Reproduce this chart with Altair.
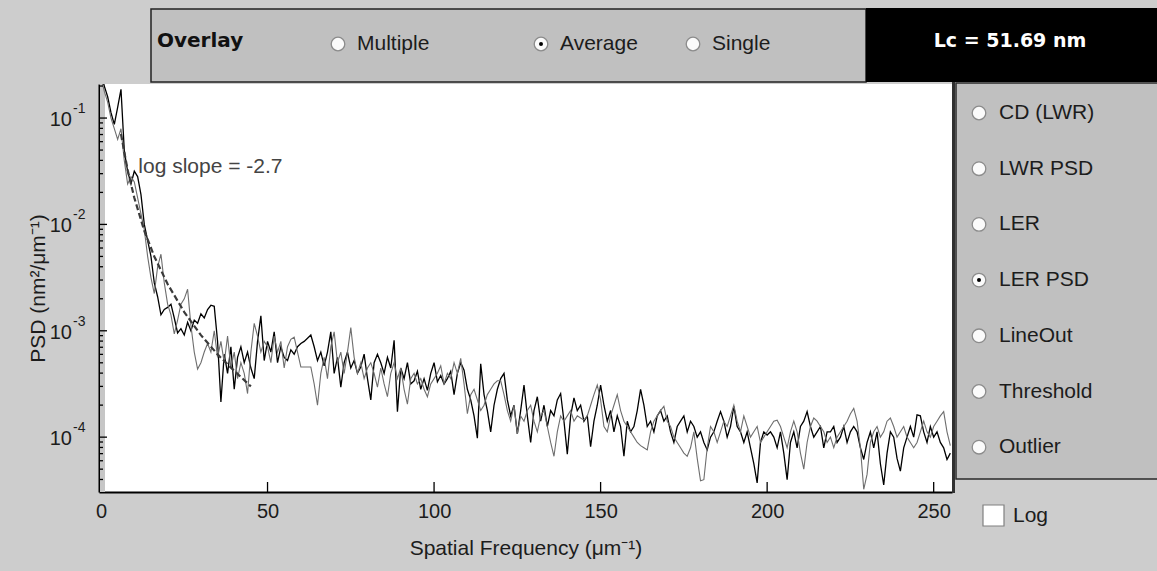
import altair as alt
import pandas as pd
import numpy as np

# ---------------- data ----------------
# log10 of PSD (nm^2/um^-1), one value per unit of spatial frequency (um^-1), f = 0..255
black_log10 = [
    -0.60, -0.70, -0.80, -0.95, -1.06, -0.90, -0.73, -1.31, -1.50, -1.62, -1.50, -1.55, -1.72, -2.00, -2.15, -2.30,
    -2.55, -2.68, -2.85, -2.80, -2.78, -2.75, -2.88, -3.02, -2.98, -3.04, -2.92, -3.00, -2.90, -2.93, -2.84, -2.88,
    -2.80, -2.76, -2.77, -3.10, -3.67, -3.22, -3.40, -3.15, -3.55, -3.25, -3.15, -3.30, -3.20, -3.35, -3.45, -3.10,
    -2.86, -3.28, -3.10, -3.20, -3.01, -3.30, -3.15, -3.25, -3.28, -3.18, -3.22, -3.15, -3.12, -3.10, -3.07, -3.04,
    -3.15, -3.28, -3.20, -3.33, -3.20, -3.01, -3.40, -3.25, -3.53, -3.30, -3.20, -3.35, -3.28, -3.40, -3.34, -3.22,
    -3.45, -3.65, -3.30, -3.22, -3.30, -3.40, -3.25, -3.35, -3.09, -3.76, -3.35, -3.45, -3.30, -3.50, -3.47, -3.38,
    -3.55, -3.45, -3.56, -3.40, -3.30, -3.48, -3.42, -3.50, -3.45, -3.38, -3.60, -3.40, -3.30, -3.37, -3.55, -3.65,
    -3.80, -4.01, -3.31, -3.60, -3.75, -3.95, -3.70, -3.55, -3.45, -3.40, -3.65, -3.80, -3.70, -3.97, -3.75, -3.51,
    -3.80, -4.05, -3.75, -3.62, -3.85, -3.70, -3.90, -3.75, -3.80, -3.65, -3.59, -3.85, -4.16, -3.80, -3.63, -3.75,
    -3.70, -3.85, -3.80, -4.09, -3.85, -3.70, -3.51, -3.70, -3.85, -3.75, -3.95, -3.80, -3.90, -4.18, -3.85, -3.95,
    -3.90, -3.75, -3.55, -3.70, -3.90, -3.85, -3.95, -3.80, -3.75, -3.85, -3.80, -3.95, -4.05, -3.90, -3.85, -3.80,
    -3.95, -3.85, -3.90, -4.00, -3.95, -4.05, -4.12, -4.00, -3.95, -3.85, -3.76, -3.85, -4.00, -3.90, -3.71, -3.90,
    -3.95, -4.05, -3.95, -4.10, -4.25, -4.43, -4.05, -3.95, -3.98, -3.95, -4.00, -4.10, -3.95, -4.15, -4.40, -4.05,
    -3.95, -4.10, -3.90, -3.85, -3.76, -3.90, -4.00, -3.95, -3.90, -4.10, -3.95, -3.95, -3.90, -4.05, -4.00, -3.90,
    -4.05, -3.95, -3.90, -3.95, -4.10, -4.21, -4.05, -3.95, -4.10, -3.95, -4.25, -4.45, -4.15, -3.95, -4.00, -4.20,
    -4.32, -4.10, -4.00, -3.90, -4.00, -3.79, -3.80, -3.95, -4.05, -3.90, -4.00, -3.95, -4.05, -4.10, -4.21, -4.15,
]
gray_log10 = [
    -0.62, -0.75, -0.85, -1.00, -1.10, -1.20, -1.10, -1.40, -1.62, -1.55, -1.60, -1.75, -1.90, -2.05, -2.30, -2.50,
    -2.65, -2.40, -2.28, -2.55, -2.75, -2.85, -3.03, -2.90, -2.75, -2.70, -2.61, -2.95, -3.20, -3.36, -3.30, -3.20,
    -3.12, -3.20, -3.00, -3.25, -3.10, -3.30, -3.05, -3.35, -3.20, -3.45, -3.30, -3.40, -3.59, -3.20, -2.93, -3.05,
    -3.20, -3.10, -3.15, -3.30, -3.05, -3.20, -3.10, -3.35, -3.15, -3.08, -3.06, -3.20, -3.34, -3.34, -3.34, -3.34,
    -3.50, -3.70, -3.40, -3.25, -3.45, -3.15, -3.01, -3.30, -3.20, -3.40, -3.20, -2.97, -3.25, -3.40, -3.30, -3.45,
    -3.35, -3.30, -3.40, -3.53, -3.35, -3.50, -3.62, -3.40, -3.30, -3.45, -3.35, -3.55, -3.69, -3.45, -3.40, -3.50,
    -3.45, -3.55, -3.62, -3.50, -3.45, -3.40, -3.33, -3.50, -3.40, -3.45, -3.30, -3.40, -3.26, -3.50, -3.78, -3.60,
    -3.55, -3.65, -3.75, -3.70, -3.60, -3.55, -3.50, -3.47, -3.47, -3.60, -3.75, -3.85, -3.70, -3.97, -3.80, -3.85,
    -3.75, -3.70, -3.85, -3.95, -3.80, -3.75, -3.90, -4.05, -4.18, -3.95, -3.80, -3.85, -3.80, -3.75, -3.85, -3.80,
    -3.82, -3.84, -3.80, -3.70, -3.60, -3.51, -3.65, -3.90, -3.95, -3.80, -3.70, -3.60, -3.75, -3.85, -3.90, -3.95,
    -4.00, -4.05, -4.08, -4.10, -4.12, -3.95, -3.85, -3.80, -3.75, -3.71, -3.85, -3.90, -4.00, -4.05, -4.10, -4.15,
    -4.18, -4.10, -3.95, -4.20, -4.41, -4.40, -4.10, -3.90, -3.95, -4.05, -3.95, -3.85, -3.90, -3.80, -3.70, -3.85,
    -3.95, -3.80, -3.90, -4.00, -3.95, -3.90, -4.05, -4.00, -3.95, -3.90, -3.85, -3.84, -3.90, -4.00, -4.10, -3.95,
    -3.85, -3.95, -4.15, -4.30, -4.05, -3.90, -3.82, -3.85, -3.90, -3.95, -4.05, -4.00, -4.10, -4.00, -3.95, -3.90,
    -3.85, -3.78, -3.73, -3.85, -4.10, -4.49, -4.35, -4.05, -3.95, -3.90, -4.00, -3.95, -3.85, -3.82, -3.90, -4.00,
    -3.95, -3.90, -4.00, -4.05, -4.10, -4.05, -3.95, -3.85, -3.95, -4.00, -3.90, -3.85, -3.80, -3.76, -3.95, -4.08,
]
# dashed power-law fit ("log slope = -2.7")
fit_freq = [6, 8, 10, 13, 16, 20, 25, 30, 35, 40, 45]
fit_psd = [0.0707, 0.0324, 0.0178, 0.0087, 0.0050, 0.00275, 0.00150, 0.00091, 0.00060, 0.00042, 0.00030]

x_tick_values = [0, 50, 100, 150, 200, 250]
y_tick_values = [1e-4, 1e-3, 1e-2, 1e-1]
y_tick_exponents = ["-4", "-3", "-2", "-1"]
annotation_text = "log slope = -2.7"
annotation_f = [11.2]
annotation_psd = [0.0347]

overlay_title = "Overlay"
overlay_options = ["Multiple", "Average", "Single"]
overlay_selected = "Average"
lc_text = "Lc = 51.69 nm"
panel_options = ["CD (LWR)", "LWR PSD", "LER", "LER PSD", "LineOut", "Threshold", "Outlier"]
panel_selected = "LER PSD"
checkbox_label = "Log"

# ---------------- tables ----------------
black_df = pd.DataFrame({"f": list(range(len(black_log10))), "psd": 10 ** np.array(black_log10)})
gray_df = pd.DataFrame({"f": list(range(len(gray_log10))), "psd": 10 ** np.array(gray_log10)})
fit_df = pd.DataFrame({"f": fit_freq, "psd": fit_psd})
major_y_df = pd.DataFrame({"psd": y_tick_values, "exp": y_tick_exponents})
minor_y_df = pd.DataFrame({"psd": [m * 10.0 ** e for e in range(-5, 0) for m in range(2, 10)
                                  if 3.05e-5 <= m * 10.0 ** e <= 0.209]})
x_ticks_df = pd.DataFrame({"f": x_tick_values[1:]})
annot_df = pd.DataFrame({"f": annotation_f, "psd": annotation_psd, "t": [annotation_text]})
one = pd.DataFrame({"k": [0]})

FONT = "Liberation Sans"
BOLD_FONT = "DejaVu Sans"
TXT = "#1c1c1c"
W, H = 853, 408

xs = alt.Scale(domain=[-0.6, 255.5], nice=False, zero=False)
ys = alt.Scale(type="log", domain=[3.05e-5, 0.209], nice=False)

x_axis = alt.Axis(values=x_tick_values, ticks=False, grid=False, domainColor="#000000", domainWidth=2,
                  labelFont=FONT, labelFontSize=20, labelColor=TXT, labelPadding=9, labelFlush=False,
                  title="Spatial Frequency (μm⁻¹)", titleFont=FONT, titleFontSize=21,
                  titleFontWeight="normal", titleColor=TXT, titlePadding=16)
y_axis = alt.Axis(values=y_tick_values, labels=False, ticks=False, grid=False, domainColor="#000000",
                  domainWidth=2, title="PSD (nm²/μm⁻¹)", titleFont=FONT, titleFontSize=21,
                  titleFontWeight="normal", titleColor=TXT, titlePadding=51)

X = lambda: alt.X("f:Q", scale=xs, axis=x_axis)
Y = lambda: alt.Y("psd:Q", scale=ys, axis=y_axis)

layers = []

# light strip along the left edge inside the plot
layers.append(alt.Chart(one).mark_rect(color="#c6c6c6").encode(
    x=alt.value(1), x2=alt.value(6), y=alt.value(0), y2=alt.value(H)))

layers.append(alt.Chart(black_df).mark_line(color="#000000", strokeWidth=1.3, clip=True).encode(x=X(), y=Y()))
layers.append(alt.Chart(gray_df).mark_line(color="#6e6e6e", strokeWidth=1.1, clip=True).encode(x=X(), y=Y()))
layers.append(alt.Chart(fit_df).mark_line(color="#3a3a3a", strokeWidth=2.2, strokeDash=[6, 3], clip=True)
              .encode(x=X(), y=Y()))

# inward ticks
layers.append(alt.Chart(major_y_df).mark_rule(color="#000000", strokeWidth=1.3).encode(
    y=Y(), x=alt.value(0), x2=alt.value(8)))
layers.append(alt.Chart(minor_y_df).mark_rule(color="#000000", strokeWidth=1.3).encode(
    y=Y(), x=alt.value(0), x2=alt.value(4)))
layers.append(alt.Chart(x_ticks_df).mark_rule(color="#000000", strokeWidth=1.3).encode(
    x=X(), y=alt.value(H), y2=alt.value(H - 10)))

# y tick labels: "10" with superscript exponent
layers.append(alt.Chart(major_y_df).mark_text(font=FONT, fontSize=20, color=TXT, align="right",
                                              baseline="middle", dy=2).encode(
    y=Y(), x=alt.value(-27), text=alt.value("10")))
layers.append(alt.Chart(major_y_df).mark_text(font=FONT, fontSize=14, color=TXT, align="left",
                                              baseline="middle", dy=-9).encode(
    y=Y(), x=alt.value(-26), text="exp:N"))

# annotation
layers.append(alt.Chart(annot_df).mark_text(font=FONT, fontSize=21, color="#444444", align="left",
                                            baseline="middle").encode(x=X(), y=Y(), text="t:N"))


# ---------------- GUI decorations around the plot ----------------
def rect(x0, x1, y0, y1, fill, stroke=None, sw=1.0):
    kw = dict(fill=fill)
    if stroke is not None:
        kw.update(stroke=stroke, strokeWidth=sw)
    return alt.Chart(one).mark_rect(**kw).encode(
        x=alt.value(x0), x2=alt.value(x1), y=alt.value(y0), y2=alt.value(y1))


def label(x, y, text, size=21, weight="normal", color=TXT, align="left", font=FONT):
    return alt.Chart(one).mark_text(font=font, fontSize=size, fontWeight=weight, color=color,
                                    align=align, baseline="middle").encode(
        x=alt.value(x), y=alt.value(y), text=alt.value(text))


def radio(x, y, selected):
    out = [alt.Chart(one).mark_point(shape="circle", filled=True, size=185, fill="#fbfbfb",
                                      stroke="#8c8c8c", strokeWidth=1.3, opacity=1).encode(
        x=alt.value(x), y=alt.value(y))]
    if selected:
        out.append(alt.Chart(one).mark_point(shape="circle", filled=True, size=16, color="#000000",
                                             opacity=1).encode(x=alt.value(x), y=alt.value(y)))
    return out


# top "Overlay" bar
layers.append(rect(52, 767, -75, -2, "#c0c0c0", "#222222", 1.5))
layers.append(rect(767, 1062, -76, -2, "#000000"))
layers.append(label(58, -43, overlay_title, size=20, weight="bold", color="#111111", font=BOLD_FONT))
for i, (cx, name) in enumerate(zip([239, 442, 594], overlay_options)):
    layers += radio(cx, -40, name == overlay_selected)
    layers.append(label(cx + 19, -40, name))
layers.append(label(911, -43, lc_text, size=19, weight="bold", color="#ffffff", align="center",
                    font=BOLD_FONT))

# right panel
layers.append(rect(857, 1062, -1, 395, "#c0c0c0", "#2a2a2a", 1.5))
layers.append(alt.Chart(one).mark_rule(color="#303030", strokeWidth=3).encode(
    x=alt.value(854.5), y=alt.value(-2), y2=alt.value(H + 1)))
for i, name in enumerate(panel_options):
    cy = 29 + 55.7 * i
    layers += radio(880, cy, name == panel_selected)
    layers.append(label(900, cy, name))

# Log checkbox
layers.append(rect(884, 905, 421, 442, "#ffffff", "#808080", 1.2))
layers.append(label(914, 432, checkbox_label))

chart = alt.layer(*layers).properties(
    width=W, height=H,
    padding={"left": 99, "top": 84, "right": 205, "bottom": 79},
    autosize=alt.AutoSizeParams(type="none"),
).configure(background="#cdcdcd").configure_view(fill="#ffffff", stroke=None)

chart.save("out.html", embed_options={"renderer": "svg", "actions": False})
